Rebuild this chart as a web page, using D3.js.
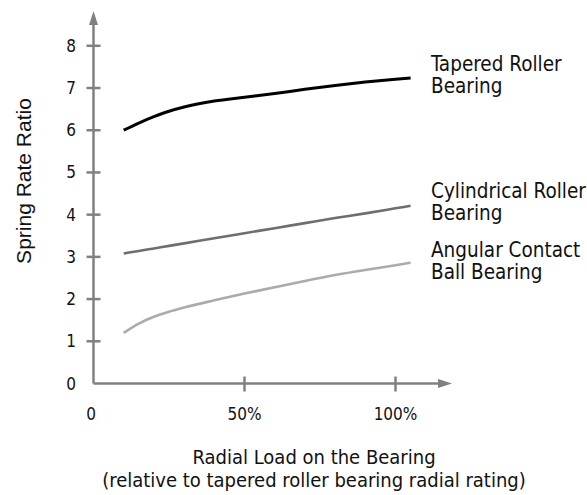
<!DOCTYPE html>
<html>
<head>
<meta charset="utf-8">
<script src="https://cdn.jsdelivr.net/npm/d3@7"></script>
<style>
  body { margin: 0; background: #fff; }
  text { fill: #111; }
</style>
</head>
<body>
<script>
// load as % of tapered roller rating
const loads = [10, 15, 20, 25, 30, 40, 50, 60, 70, 80, 90, 100, 105];
const tapered = [6.0, 6.17, 6.32, 6.45, 6.55, 6.69, 6.78, 6.87, 6.97, 7.06, 7.14, 7.21, 7.24];
const cylindrical = [3.08, 3.14, 3.2, 3.26, 3.32, 3.44, 3.56, 3.68, 3.8, 3.92, 4.03, 4.15, 4.21];
const angular = [1.2, 1.42, 1.58, 1.7, 1.8, 1.97, 2.13, 2.28, 2.43, 2.57, 2.69, 2.8, 2.86];
const yTicks = [1, 2, 3, 4, 5, 6, 7, 8];
const xTicks = [50, 100];
const seriesNames = [['Tapered Roller', 'Bearing'], ['Cylindrical Roller', 'Bearing'], ['Angular Contact', 'Ball Bearing']];

const w = 587, h = 495;
const cond = '"DejaVu Sans Condensed", "Liberation Sans Narrow", sans-serif';
const axisCol = '#808080';

const svg = d3.select('body')
            .append('svg')
            .attr('width', w)
            .attr('height', h);

const xScale = d3.scaleLinear()
                .domain([0, 100])
                .range([93.5, 395.5]);

const yScale = d3.scaleLinear()
                .domain([0, 8])
                .range([383.5, 45.8]);

// axes lines with arrows
svg.append('line')
    .attr('x1', xScale(0)).attr('y1', yScale(0))
    .attr('x2', xScale(0)).attr('y2', 22)
    .attr('stroke', axisCol).attr('stroke-width', 2.5);
svg.append('path')
    .attr('d', `M${xScale(0)},11 L${xScale(0) - 4.5},25 L${xScale(0) + 4.5},25 Z`)
    .attr('fill', axisCol);
svg.append('line')
    .attr('x1', xScale(0)).attr('y1', yScale(0))
    .attr('x2', 440).attr('y2', yScale(0))
    .attr('stroke', axisCol).attr('stroke-width', 2.5);
svg.append('path')
    .attr('d', `M452,${yScale(0)} L438,${yScale(0) - 4.5} L438,${yScale(0) + 4.5} Z`)
    .attr('fill', axisCol);

// tick marks
svg.selectAll('line.yt')
    .data(yTicks)
    .enter()
    .append('line')
    .attr('class', 'yt')
    .attr('x1', xScale(0) - 7).attr('x2', xScale(0) + 7)
    .attr('y1', d => yScale(d)).attr('y2', d => yScale(d))
    .attr('stroke', axisCol).attr('stroke-width', 2.5);
svg.selectAll('line.xt')
    .data(xTicks)
    .enter()
    .append('line')
    .attr('class', 'xt')
    .attr('x1', d => xScale(d)).attr('x2', d => xScale(d))
    .attr('y1', yScale(0) - 7).attr('y2', yScale(0) + 8)
    .attr('stroke', axisCol).attr('stroke-width', 2.5);

// tick labels
svg.selectAll('text.yl')
    .data([0].concat(yTicks))
    .enter()
    .append('text')
    .attr('class', 'yl')
    .attr('x', 76)
    .attr('y', d => yScale(d) + 6)
    .attr('text-anchor', 'end')
    .style('font-family', cond)
    .style('font-size', '17px')
    .text(d => d);
svg.selectAll('text.xl')
    .data([0].concat(xTicks))
    .enter()
    .append('text')
    .attr('class', 'xl')
    .attr('x', d => d === 0 ? 91 : xScale(d))
    .attr('y', 420)
    .attr('text-anchor', 'middle')
    .style('font-family', cond)
    .style('font-size', '17px')
    .text(d => d === 0 ? '0' : d + '%');

// axis titles
svg.append('text')
    .attr('transform', 'translate(31,181) rotate(-90)')
    .attr('text-anchor', 'middle')
    .style('font-family', '"Liberation Sans", Arial, sans-serif')
    .style('font-size', '21px')
    .text('Spring Rate Ratio');
svg.append('text')
    .attr('x', 314).attr('y', 464)
    .attr('text-anchor', 'middle')
    .style('font-family', cond)
    .style('font-size', '20px')
    .text('Radial Load on the Bearing');
svg.append('text')
    .attr('x', 314).attr('y', 487)
    .attr('text-anchor', 'middle')
    .style('font-family', cond)
    .style('font-size', '20px')
    .text('(relative to tapered roller bearing radial rating)');

// curves
const series = [
    { vals: tapered, color: '#000000', width: 3 },
    { vals: cylindrical, color: '#6e6e6e', width: 2.6 },
    { vals: angular, color: '#ababab', width: 2.6 }
];
const line = d3.line()
    .x(d => xScale(d[0]))
    .y(d => yScale(d[1]))
    .curve(d3.curveMonotoneX);

svg.selectAll('path.curve')
    .data(series)
    .enter()
    .append('path')
    .attr('class', 'curve')
    .attr('fill', 'none')
    .attr('stroke', d => d.color)
    .attr('stroke-width', d => d.width)
    .attr('d', d => line(loads.map((x, i) => [x, d.vals[i]])));

// series labels
const labelY = [71, 198, 257];
seriesNames.forEach((lines, i) => {
    const t = svg.append('text')
        .attr('x', 431)
        .attr('y', labelY[i])
        .style('font-family', cond)
        .style('font-size', '20.5px');
    lines.forEach((s, j) => {
        t.append('tspan')
            .attr('x', 431)
            .attr('dy', j === 0 ? 0 : 22)
            .text(s);
    });
});
</script>
</body>
</html>
